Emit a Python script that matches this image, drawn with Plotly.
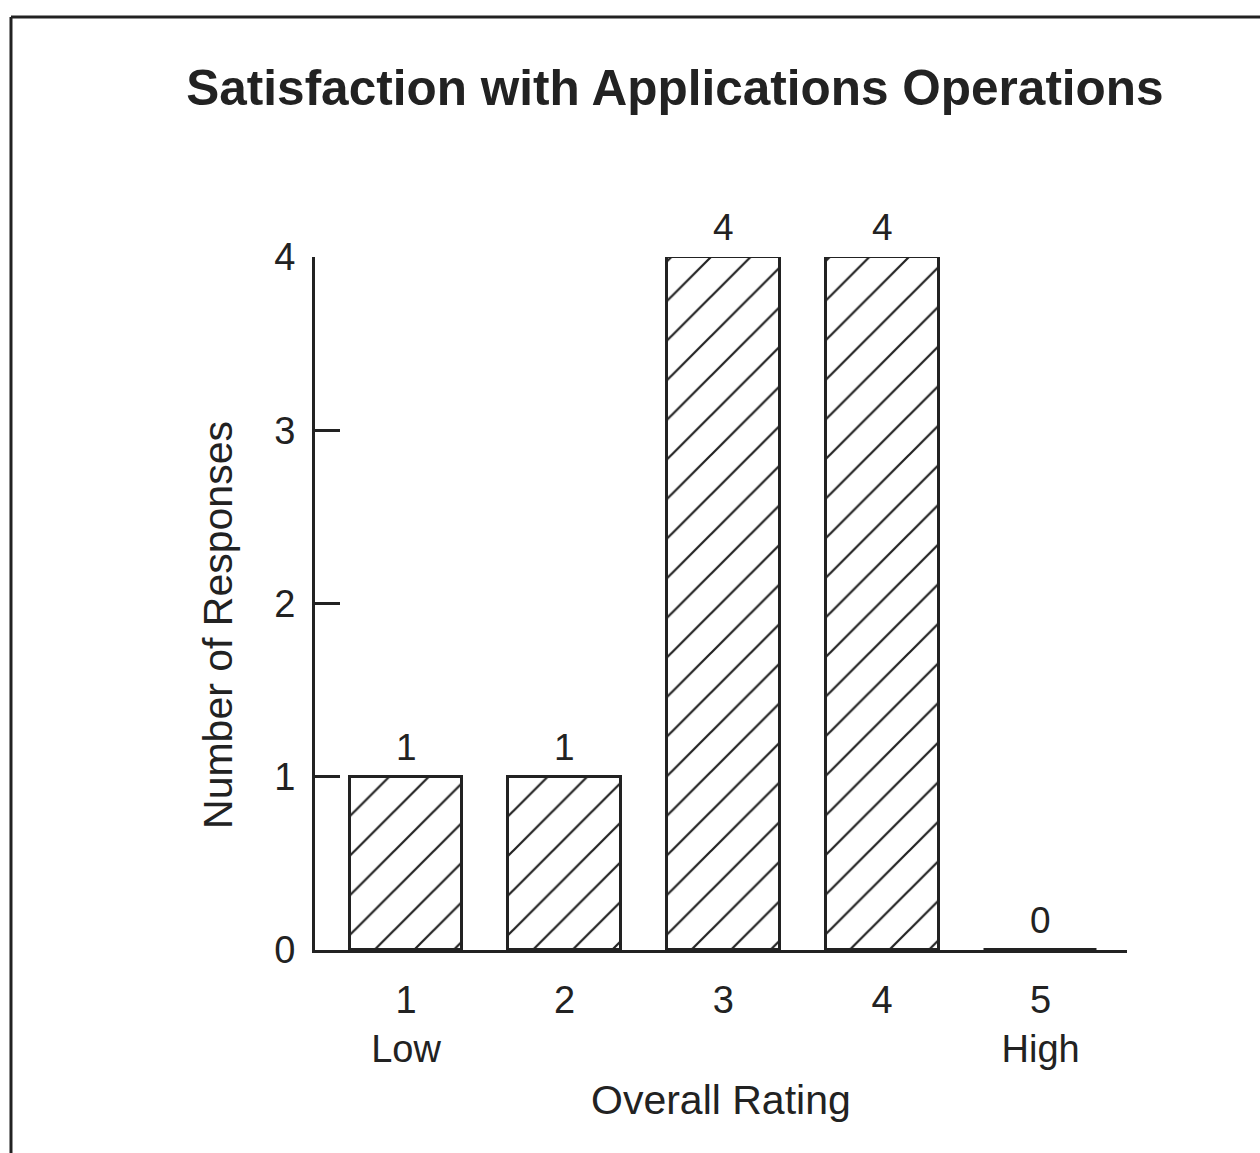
import plotly.graph_objects as go

# Survey results: number of responses per overall rating
ratings = [1, 2, 3, 4, 5]
responses = [1, 1, 4, 4, 0]
rating_labels = ["1<br>Low", "2", "3", "4", "5<br>High"]
y_ticks = [0, 1, 2, 3, 4]

INK = "#222222"
FONT = "Liberation Sans, Arial, Helvetica, sans-serif"

fig = go.Figure()

fig.add_trace(go.Bar(
    x=ratings,
    y=responses,
    width=0.712,
    marker=dict(
        color="white",
        line=dict(color=INK, width=3),
        pattern=dict(shape="/", fgcolor=INK, bgcolor="white",
                     size=28, solidity=0.08, fillmode="replace"),
    ),
    cliponaxis=False,
    hoverinfo="skip",
    showlegend=False,
))

# value labels above each bar
for r, v in zip(ratings, responses):
    fig.add_annotation(
        x=r, y=v, text=str(v), showarrow=False,
        xanchor="center", yanchor="bottom", yshift=7,
        font=dict(family=FONT, size=37, color=INK),
    )

# axis titles
fig.add_annotation(
    x=0.5, y=-0.2165, xref="paper", yref="paper",
    text="Overall Rating", showarrow=False,
    xanchor="center", yanchor="middle",
    font=dict(family=FONT, size=41, color=INK),
)
fig.add_annotation(
    x=-0.1195, y=0.469, xref="paper", yref="paper",
    text="Number of Responses", showarrow=False, textangle=-90,
    xanchor="center", yanchor="middle",
    font=dict(family=FONT, size=41, color=INK),
)

# page frame (left and top edges)
fig.add_shape(type="line", xref="paper", yref="paper",
              x0=-0.3744, x1=-0.3744, y0=1.3463, y1=-0.30,
              line=dict(color=INK, width=3))
fig.add_shape(type="line", xref="paper", yref="paper",
              x0=-0.3744, x1=1.17, y0=1.3463, y1=1.3463,
              line=dict(color=INK, width=3))

fig.update_layout(
    width=1260, height=1153,
    margin=dict(l=315, r=133, t=257, b=203),
    paper_bgcolor="white", plot_bgcolor="white",
    title=dict(
        text="<b>Satisfaction with Applications Operations</b>",
        x=0.5357, xref="container", xanchor="center",
        y=1 - 88 / 1153, yref="container", yanchor="middle",
        font=dict(family=FONT, size=49.5, color=INK),
    ),
    font=dict(family=FONT, color=INK),
    bargap=0,
)

fig.update_xaxes(
    range=[0.4265, 5.544],
    tickmode="array", tickvals=ratings, ticktext=rating_labels,
    ticks="", ticklabelstandoff=14,
    tickfont=dict(family=FONT, size=38, color=INK),
    showline=True, linecolor=INK, linewidth=3,
    showgrid=False, zeroline=False, fixedrange=True,
)
fig.update_yaxes(
    range=[0, 4],
    tickmode="array", tickvals=y_ticks,
    ticks="inside", ticklen=25, tickwidth=3, tickcolor=INK,
    ticklabelstandoff=9,
    tickfont=dict(family=FONT, size=38, color=INK),
    showline=True, linecolor=INK, linewidth=3,
    showgrid=False, zeroline=False, fixedrange=True,
)

fig.write_html("out.html", config={"displayModeBar": False})
